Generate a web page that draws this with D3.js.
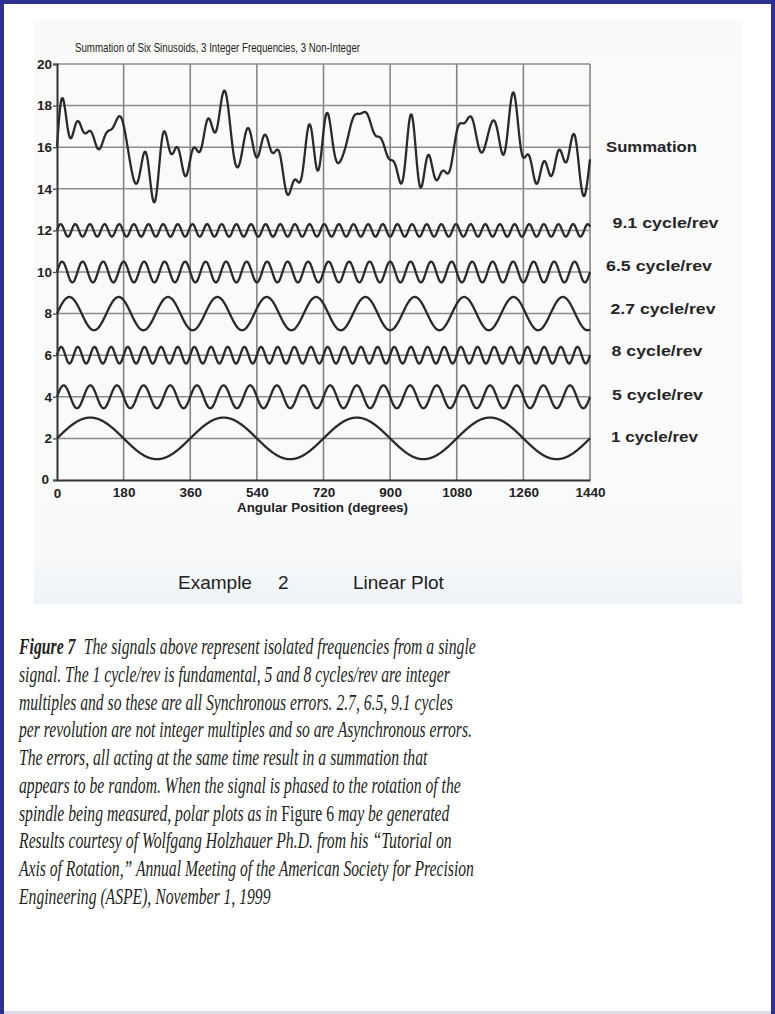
<!DOCTYPE html>
<html>
<head>
<meta charset="utf-8">
<script src="https://cdn.jsdelivr.net/npm/d3@7"></script>
<style>
body { margin: 0; background: #ffffff; }
svg { display: block; }
</style>
</head>
<body>
<div id="chart"></div>
<script>
// values
var chartTitle = "Summation of Six Sinusoids, 3 Integer Frequencies, 3 Non-Integer";
var xAxisLabel = "Angular Position (degrees)";
var seriesLabels = ["1 cycle/rev", "5 cycle/rev", "8 cycle/rev", "2.7 cycle/rev", "6.5 cycle/rev", "9.1 cycle/rev"];
var frequencies = [1, 5, 8, 2.7, 6.5, 9.1];
var amplitudes = [1.0, 0.55, 0.4, 0.8, 0.5, 0.3];
var baselines = [2, 4, 6, 8, 10, 12];
var summationLabel = "Summation";
var summationBaseline = 16;
var xTicks = [0, 180, 360, 540, 720, 900, 1080, 1260, 1440];
var yTicks = [0, 2, 4, 6, 8, 10, 12, 14, 16, 18, 20];
var footerLeft = ["Example", "2"];
var footerRight = "Linear Plot";

var captionLines = [
    [{text: "Figure 7", bold: true}, {text: "The signals above represent isolated frequencies from a single", dx: 12}],
    [{text: "signal. The 1 cycle/rev is fundamental, 5 and 8 cycles/rev are integer"}],
    [{text: "multiples and so these are all Synchronous errors. 2.7, 6.5, 9.1 cycles"}],
    [{text: "per revolution are not integer multiples and so are Asynchronous errors."}],
    [{text: "The errors, all acting at the same time result in a summation that"}],
    [{text: "appears to be random. When the signal is phased to the rotation of the"}],
    [{text: "spindle being measured, polar plots as in "}, {text: "Figure 6", upright: true}, {text: " may be generated"}],
    [{text: "Results courtesy of Wolfgang Holzhauer Ph.D. from  his \u201cTutorial on"}],
    [{text: "Axis of Rotation,\u201d Annual Meeting of the American Society for Precision"}],
    [{text: "Engineering (ASPE), November 1, 1999"}]
];

function load() {
    var width = 775;
    var height = 1014;

    // layout
    var plotLeft = 57, plotRight = 590, plotTop = 64, plotBottom = 480;
    var labelX = [611, 612, 611.5, 610.5, 606, 612.5];
    var labelDy = [-1.5, -2.5, -4, -5, -6.5, -8];
    var labelWidths = [87, 91, 91, 105, 106, 106];
    var captionX = 19, captionTop = 654, captionStep = 27.75;
    var captionEnds = [476, 451, 453, 472, 428, 461, 450, 452, 474, 271];
    var ink = "#2a2a2a";

    var svg = d3.select("#chart").append("svg")
        .attr("width", width)
        .attr("height", height);

    var defs = svg.append("defs");
    var grad = defs.append("linearGradient")
        .attr("id", "scanFade")
        .attr("x1", 0).attr("y1", 0).attr("x2", 0).attr("y2", 1);
    grad.append("stop").attr("offset", "0%").attr("stop-color", "#fafbf9");
    grad.append("stop").attr("offset", "90%").attr("stop-color", "#f9fafa");
    grad.append("stop").attr("offset", "100%").attr("stop-color", "#eef3f8");

    // page frame
    svg.append("rect").attr("width", width).attr("height", height).attr("fill", "#ffffff");
    svg.append("rect").attr("x", 34).attr("y", 20).attr("width", 708).attr("height", 584)
        .attr("fill", "url(#scanFade)");
    svg.append("rect").attr("x", 0).attr("y", 0).attr("width", width).attr("height", 4).attr("fill", "#2e3192");
    svg.append("rect").attr("x", 0).attr("y", 0).attr("width", 4).attr("height", height).attr("fill", "#2e3192");
    svg.append("rect").attr("x", 771).attr("y", 0).attr("width", 4).attr("height", height).attr("fill", "#2e3192");
    svg.append("rect").attr("x", 4).attr("y", 1011).attr("width", 767).attr("height", 3).attr("fill", "#dcdcea");

    var x = d3.scaleLinear().domain([0, 1440]).range([plotLeft, plotRight]);
    var y = d3.scaleLinear().domain([0, 20]).range([plotBottom, plotTop]);

    var graph = svg.append("g").attr("class", "graph");

    // grid
    graph.append("g").selectAll("line.vgrid")
        .data(xTicks.slice(1))
        .enter()
        .append("line")
        .attr("class", "vgrid")
        .attr("x1", function(d) { return x(d); })
        .attr("x2", function(d) { return x(d); })
        .attr("y1", y(20))
        .attr("y2", y(0))
        .attr("stroke", "#858585")
        .attr("stroke-width", 1.6);

    graph.append("g").selectAll("line.hgrid")
        .data(yTicks.slice(1))
        .enter()
        .append("line")
        .attr("class", "hgrid")
        .attr("x1", x(0))
        .attr("x2", x(1440))
        .attr("y1", function(d) { return y(d); })
        .attr("y2", function(d) { return y(d); })
        .attr("stroke", "#8c8c8c")
        .attr("stroke-width", 1.5);

    // axes
    var yAxis = d3.axisLeft(y).tickValues(yTicks).tickSize(4).tickPadding(1).tickFormat(d3.format("d"));
    var xAxis = d3.axisBottom(x).tickValues(xTicks).tickSize(0).tickPadding(7).tickFormat(d3.format("d"));

    var gY = svg.append("g")
        .attr("class", "axis axis--y")
        .attr("transform", "translate(" + plotLeft + ",0)")
        .call(yAxis);
    var gX = svg.append("g")
        .attr("class", "axis axis--x")
        .attr("transform", "translate(0," + plotBottom + ")")
        .call(xAxis);

    svg.selectAll(".axis path.domain").attr("stroke", "#333").attr("stroke-width", 2);
    svg.selectAll(".axis line").attr("stroke", "#555").attr("stroke-width", 1.4);
    svg.selectAll(".axis text")
        .attr("fill", "#222")
        .attr("font-family", "Liberation Sans, Arial, sans-serif")
        .attr("font-weight", "bold")
        .attr("font-size", 13.5);
    gY.selectAll(".tick").filter(function(d) { return d === 0; }).select("text")
        .attr("dx", -3).attr("dy", "0.25em");
    gX.selectAll(".tick").filter(function(d) { return d === 0; }).select("text")
        .attr("dy", "0.8em");

    // curves
    var angles = d3.range(0, 1440.5, 1);
    var component = function(i, a) {
        return baselines[i] + amplitudes[i] * Math.sin(frequencies[i] * a * Math.PI / 180);
    };
    var series = frequencies.map(function(f, i) {
        return {
            key: seriesLabels[i],
            values: angles.map(function(a) { return {angle: a, value: component(i, a)}; })
        };
    });
    var summation = {
        key: summationLabel,
        values: angles.map(function(a) {
            var total = summationBaseline;
            frequencies.forEach(function(f, i) { total += component(i, a) - baselines[i]; });
            return {angle: a, value: total};
        })
    };

    var line = d3.line()
        .curve(d3.curveMonotoneX)
        .x(function(d) { return x(d.angle); })
        .y(function(d) { return y(d.value); });

    graph.selectAll(".line")
        .data([summation].concat(series))
        .enter()
        .append("path")
        .attr("class", "line")
        .attr("fill", "none")
        .attr("stroke", ink)
        .attr("stroke-width", 2.3)
        .attr("stroke-linejoin", "round")
        .attr("d", function(d) { return line(d.values); });

    // series labels on the right
    var labelBaselines = [summationBaseline].concat(baselines);
    var labelText = [summationLabel].concat(seriesLabels);
    var labelXs = [606].concat(labelX);
    var labelDys = [0].concat(labelDy);
    var labelWs = [91].concat(labelWidths);

    svg.append("g").selectAll("text.series-label")
        .data(labelText)
        .enter()
        .append("text")
        .attr("class", "series-label")
        .attr("x", function(d, i) { return labelXs[i]; })
        .attr("y", function(d, i) { return y(labelBaselines[i]) + labelDys[i]; })
        .attr("dy", "0.36em")
        .attr("font-family", "Liberation Sans, Arial, sans-serif")
        .attr("font-weight", "bold")
        .attr("font-size", 14.5)
        .attr("fill", "#262626")
        .attr("textLength", function(d, i) { return labelWs[i]; })
        .attr("lengthAdjust", "spacingAndGlyphs")
        .text(function(d) { return d; });

    // titles
    svg.append("text")
        .attr("x", 75)
        .attr("y", 52)
        .attr("font-family", "Liberation Sans, Arial, sans-serif")
        .attr("font-size", 12.5)
        .attr("fill", "#222")
        .attr("textLength", 285)
        .attr("lengthAdjust", "spacingAndGlyphs")
        .text(chartTitle);

    svg.append("text")
        .attr("x", 237)
        .attr("y", 511.5)
        .attr("font-family", "Liberation Sans, Arial, sans-serif")
        .attr("font-weight", "bold")
        .attr("font-size", 12.5)
        .attr("fill", "#222")
        .attr("textLength", 171)
        .attr("lengthAdjust", "spacingAndGlyphs")
        .text(xAxisLabel);

    var footer = svg.append("text")
        .attr("y", 589)
        .attr("font-family", "Liberation Sans, Arial, sans-serif")
        .attr("font-size", 19)
        .attr("fill", "#222");
    footer.append("tspan").attr("x", 178).text(footerLeft[0]);
    footer.append("tspan").attr("x", 278).text(footerLeft[1]);
    footer.append("tspan").attr("x", 353).text(footerRight);

    // caption, each line squeezed to the scanned width
    var caption = svg.append("g").attr("class", "caption");
    captionLines.forEach(function(parts, i) {
        var row = caption.append("g");
        var t = row.append("text")
            .attr("x", 0)
            .attr("y", 0)
            .attr("font-family", "Liberation Serif, Times New Roman, serif")
            .attr("font-size", 23)
            .attr("fill", "#231f20");
        parts.forEach(function(p) {
            t.append("tspan")
                .attr("dx", p.dx || 0)
                .attr("font-style", p.upright ? "normal" : "italic")
                .attr("font-weight", p.bold ? "bold" : "normal")
                .text(p.text);
        });
        var box = t.node().getBBox();
        var sx = (captionEnds[i] - captionX) / (box.x + box.width);
        row.attr("transform", "translate(" + captionX + "," + (captionTop + i * captionStep) + ") scale(" + sx + ",1)");
    });
}

load();
</script>
</body>
</html>
